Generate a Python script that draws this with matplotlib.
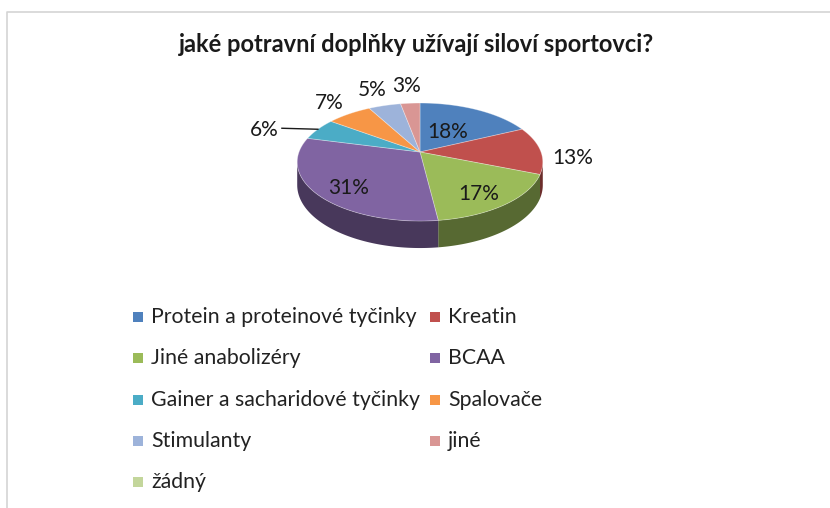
import numpy as np
import matplotlib
matplotlib.use("Agg")
import matplotlib.pyplot as plt
from matplotlib.colors import to_rgb

plt.rcParams['font.family'] = ['Lato', 'DejaVu Sans']

# Data z grafu
nazev = 'jaké potravní doplňky užívají siloví sportovci?'
kategorie = ['Protein a proteinové tyčinky', 'Kreatin', 'Jiné anabolizéry', 'BCAA',
             'Gainer a sacharidové tyčinky', 'Spalovače', 'Stimulanty', 'jiné', 'žádný']
podily = [18, 13, 17, 31, 6, 7, 5, 3, 0]
barvy = ['#4F81BD', '#C0504D', '#9BBB59', '#8064A2', '#4BACC6',
         '#F79646', '#9DB3DA', '#D99694', '#C3D69B']

# Vzhled popisku: nasobek polomeru pro kazdy dil (None = popisek s vodici carou)
polomery_popisku = [0.45, 1.27, 0.72, 0.72, None, 1.33, 1.42, 1.45, None]
posun_popisku_y = [0, 8, 6, 6, 0, 0, 0, 0, 0]

# Geometrie 3D kolace (v pixelech)
CX, CY = 420, 152
A, B, K = 121, 57.3, 0.17
HLOUBKA = 27 * (1 - K)


def projekce(theta, r=1.0, hloubka=0.0):
    X = r * np.sin(theta)
    Z = r * np.cos(theta)
    den = 1 + K * Z
    return CX + A * X / den, CY - B * Z / den + hloubka / den


def ztmavit(barva, f=0.56):
    return tuple(c * f for c in to_rgb(barva))


fig = plt.figure(figsize=(8.30, 5.08), dpi=100)
ax = fig.add_axes([0, 0, 1, 1])
ax.set_xlim(0, 830)
ax.set_ylim(508, 0)
ax.axis('off')

# ramecek grafu
ax.plot([7, 7, 830], [508, 12, 12], color='#d4d4d4', lw=1.2)

ax.text(416, 45, nazev, ha='center', va='center', fontsize=17,
        fontweight='bold', color='#1a1a1a')

uhly = np.cumsum([0] + podily) / sum(podily) * 2 * np.pi
viditelne = (np.arccos(-K), 2 * np.pi - np.arccos(-K))

# bocni steny (jen predni cast)
for i, p in enumerate(podily):
    if p == 0:
        continue
    t0 = max(uhly[i], viditelne[0])
    t1 = min(uhly[i + 1], viditelne[1])
    if t1 <= t0:
        continue
    t = np.linspace(t0, t1, 80)
    xh, yh = projekce(t)
    xd, yd = projekce(t[::-1], hloubka=HLOUBKA)
    ax.fill(np.r_[xh, xd], np.r_[yh, yd], color=ztmavit(barvy[i]), lw=0)

# horni plocha
for i, p in enumerate(podily):
    if p == 0:
        continue
    t = np.linspace(uhly[i], uhly[i + 1], 120)
    xh, yh = projekce(t)
    ax.fill(np.r_[CX, xh], np.r_[CY, yh], color=barvy[i],
            ec=(1, 1, 1, 0.35), lw=0.6)

# popisky procent
for i, p in enumerate(podily):
    if p == 0:
        continue
    stred = (uhly[i] + uhly[i + 1]) / 2
    text = f'{p}%'
    if polomery_popisku[i] is None:
        x0, y0 = projekce(stred)
        ax.plot([x0, x0 - 36], [y0, y0 - 1], color='#1a1a1a', lw=1)
        ax.text(x0 - 39, y0 + 1, text, ha='right', va='center',
                fontsize=15, color='#1a1a1a')
    else:
        x, y = projekce(stred, polomery_popisku[i])
        ax.text(x, y + posun_popisku_y[i], text, ha='center', va='center',
                fontsize=15, color='#1a1a1a')

# legenda (po radcich, dva sloupce)
for i, (nazev_k, barva) in enumerate(zip(kategorie, barvy)):
    radek, sloupec = divmod(i, 2)
    x = 138 + sloupec * 297
    y = 317 + radek * 41.3
    ax.scatter([x], [y], marker='s', s=45, color=barva, lw=0)
    ax.text(x + 13, y, nazev_k, ha='left', va='center', fontsize=15.3,
            color='#222222')

fig.savefig('out.png', dpi=100)
